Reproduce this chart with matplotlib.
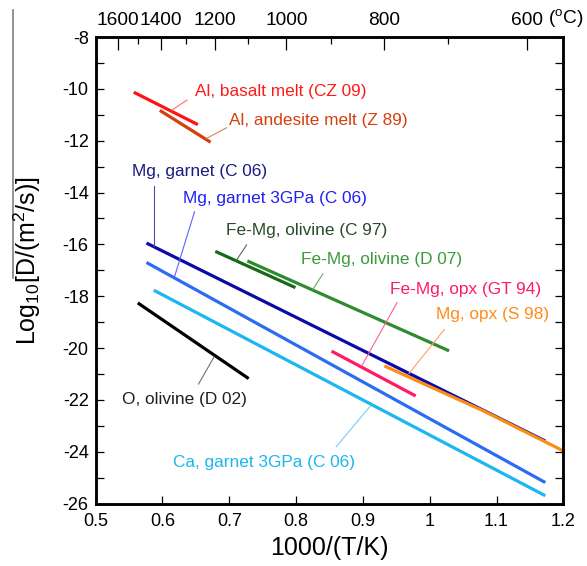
import matplotlib
matplotlib.use('Agg')
import matplotlib.pyplot as plt
from matplotlib.ticker import MultipleLocator
from matplotlib.lines import Line2D

plt.rcParams['font.family'] = ['Liberation Sans', 'DejaVu Sans']
plt.rcParams['mathtext.fontset'] = 'custom'
plt.rcParams['mathtext.rm'] = 'Liberation Sans'
plt.rcParams['mathtext.it'] = 'Liberation Sans:italic'
plt.rcParams['axes.unicode_minus'] = False

# DATA: 1000/(T/K) and log10 D for each diffusion law
labels = [
	'Al, basalt melt (CZ 09)',
	'Al, andesite melt (Z 89)',
	'Mg, garnet (C 06)',
	'Mg, garnet 3GPa (C 06)',
	'Ca, garnet 3GPa (C 06)',
	'O, olivine (D 02)',
	'Fe-Mg, olivine (C 97)',
	'Fe-Mg, olivine (D 07)',
	'Fe-Mg, opx (GT 94)',
	'Mg, opx (S 98)',
]
inv_T = [
	[0.557, 0.653],
	[0.596, 0.672],
	[0.576, 1.173],
	[0.576, 1.173],
	[0.587, 1.173],
	[0.563, 0.729],
	[0.679, 0.799],
	[0.727, 1.029],
	[0.853, 0.979],
	[0.932, 1.080, 1.200],
]
log_D = [
	[-10.13, -11.38],
	[-10.83, -12.06],
	[-15.95, -23.59],
	[-16.70, -25.19],
	[-17.77, -25.70],
	[-18.26, -21.18],
	[-16.27, -17.67],
	[-16.64, -20.11],
	[-20.12, -21.85],
	[-20.69, -22.42, -23.97],
]
x_ticks = [0.5, 0.6, 0.7, 0.8, 0.9, 1.0, 1.1, 1.2]
x_tick_labels = ['0.5', '0.6', '0.7', '0.8', '0.9', '1', '1.1', '1.2']
temps_major = [1600, 1400, 1200, 1000, 800, 600]
temps_minor = [1500, 1300, 1100, 900, 700]

# styles
line_colors = ['#ff1212', '#d4400c', '#0a0aa6', '#2c6cf2', '#1cb6f0',
	'#000000', '#186a18', '#2e8c2e', '#ff1a66', '#ff8c12']
text_colors = ['#ff1a1a', '#d4400c', '#1a1a80', '#2020f0', '#1cb6f0',
	'#202020', '#2a4a2a', '#3a9a3a', '#ff1a66', '#ff8c1a']
leader_colors = ['#ff7070', '#e08060', '#5050a0', '#6060ff', '#70d0f0',
	'#707070', '#507050', '#60a860', '#ff6090', '#ffa060']
label_pos = [(0.649, -10.11), (0.700, -11.24), (0.554, -13.20), (0.630, -14.22),
	(0.616, -24.42), (0.539, -22.00), (0.695, -15.47), (0.807, -16.60),
	(0.941, -17.76), (1.010, -18.70)]
leaders = [
	((0.637, -10.43), (0.614, -10.82)),
	((0.696, -11.50), (0.666, -11.91)),
	((0.588, -13.74), (0.588, -16.05)),
	((0.648, -14.74), (0.618, -17.25)),
	((0.860, -23.81), (0.911, -22.24)),
	((0.654, -21.39), (0.677, -20.35)),
	((0.726, -16.02), (0.711, -16.60)),
	((0.840, -17.14), (0.825, -17.74)),
	((0.951, -18.25), (0.898, -20.70)),
	((1.022, -19.28), (0.969, -20.98)),
]

fig = plt.figure(figsize=(5.87, 5.66), dpi=100)
ax = fig.add_axes([0.163, 0.1104, 0.7967, 0.8242])

for xs, ys, c in zip(inv_T, log_D, line_colors):
	ax.plot(xs, ys, color=c, lw=2.3, solid_capstyle='butt')

for text, pos, (p0, p1), tc, lc in zip(labels, label_pos, leaders, text_colors, leader_colors):
	ax.plot([p0[0], p1[0]], [p0[1], p1[1]], color=lc, lw=0.8)
	ax.text(pos[0], pos[1], text, color=tc, fontsize=12.4, ha='left', va='center')

ax.set_xlim(0.5, 1.2)
ax.set_ylim(-26, -8)
ax.set_xticks(x_ticks)
ax.set_xticklabels(x_tick_labels)
ax.yaxis.set_major_locator(MultipleLocator(2))
ax.yaxis.set_minor_locator(MultipleLocator(1))
ax.tick_params(axis='both', which='both', direction='in', width=0.9, length=6,
	labelsize=13, top=False, right=True)
ax.tick_params(axis='x', pad=7)
ax.tick_params(axis='y', pad=5)
ax.tick_params(axis='y', which='minor', length=6)
for s in ax.spines.values():
	s.set_linewidth(1.8)

# temperature axis on top
ax2 = ax.twiny()
ax2.set_xlim(ax.get_xlim())
ax2.set_xticks([1000 / (t + 273.15) for t in temps_major])
ax2.set_xticklabels([str(t) for t in temps_major])
ax2.set_xticks([1000 / (t + 273.15) for t in temps_minor], minor=True)
ax2.tick_params(axis='x', which='major', direction='in', length=9, width=0.9,
	labelsize=13.8, pad=6)
ax2.tick_params(axis='x', which='minor', direction='in', length=5, width=0.9)
for s in ax2.spines.values():
	s.set_linewidth(1.8)
ax2.annotate('($^{\\rm o}$C)', xy=(1000 / (600 + 273.15), 1), xycoords=('data', 'axes fraction'),
	xytext=(15, 6), textcoords='offset points', ha='left', va='bottom', fontsize=13.8)

fig.text(0.5613, 0.032, '1000/(T/K)', fontsize=18, ha='center', va='center')
fig.text(0.046, 0.54, 'Log$_{10}$[D/(m$^2$/s)]', fontsize=18, rotation=90,
	ha='center', va='center')
# thin grey line at the left edge of the original image
fig.add_artist(Line2D([0.0227, 0.0227], [0.509, 0.982], color='#808080', lw=1.2))

fig.savefig('out.png', dpi=100)
